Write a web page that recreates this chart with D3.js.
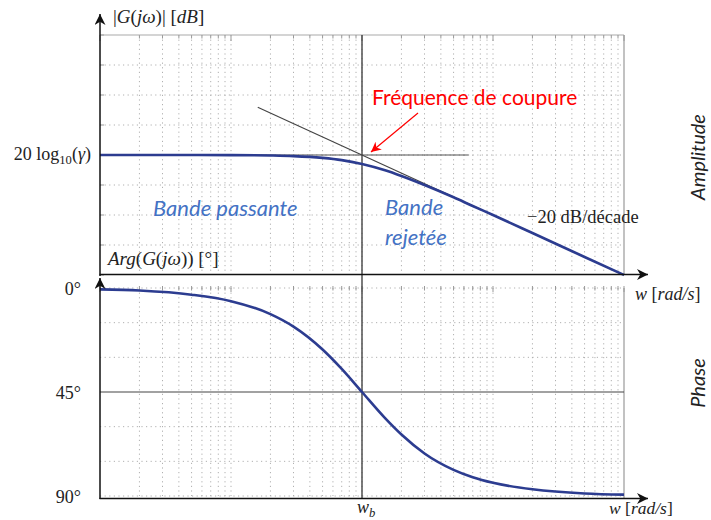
<!DOCTYPE html>
<html>
<head>
<meta charset="utf-8">
<script src="https://cdn.jsdelivr.net/npm/d3@7"></script>
<style>
  html, body { margin: 0; padding: 0; background: #fff; }
  svg { display: block; }
</style>
</head>
<body>
<svg id="chart" width="711" height="520"></svg>
<script>
// ---------------- DATA ----------------
const omega    = [1, 2, 5, 10, 20, 30, 50, 70, 100, 150, 200, 300, 500, 700, 1000, 2000, 5000, 10000];
const gainDb   = [0, 0, -0.01, -0.04, -0.17, -0.37, -0.97, -1.7, -3.0, -5.1, -7.0, -10.0, -14.1, -17.0, -20.0, -26.0, -34.0, -40.0];
const phaseDeg = [0.6, 1.1, 2.9, 5.7, 11.3, 16.7, 26.6, 35.0, 45.0, 56.3, 63.4, 71.6, 78.7, 81.9, 84.3, 87.1, 88.9, 89.4];
const omegaB = 100;
const asymFlatW  = [1, 650];
const asymFlatDb = [0, 0];
const asymSlopeW  = [16, 10000];
const asymSlopeDb = [15.9, -40];
const dbGrid    = [-40, -30, -20, -10, 0, 10, 20, 30, 40];
const phaseGrid = [0, 15, 30, 45, 60, 75, 90];
const phaseTickLabels = ["0°", "45°", "90°"];
const phaseTickValues = [0, 45, 90];

// ---------------- SCALES ----------------
const svg = d3.select("#chart");
const x = d3.scaleLog().domain([1, 10000]).range([100, 624]);
const yA = d3.scaleLinear().domain([-40, 40]).range([275, 35]);
const yP = d3.scaleLinear().domain([0, 90]).range([288, 496]);

const minorW = [];
for (let d = 0; d < 4; d++) for (let k = 1; k <= 9; k++) minorW.push(k * Math.pow(10, d));
minorW.push(10000);

const defs = svg.append("defs");
function marker(id, color, w, h) {
  defs.append("marker").attr("id", id).attr("viewBox", "0 0 10 10")
    .attr("refX", 10).attr("refY", 5).attr("markerWidth", w).attr("markerHeight", h)
    .attr("markerUnits", "userSpaceOnUse").attr("orient", "auto")
    .append("path").attr("d", "M0,0 L10,5 L0,10 L3,5 Z").attr("fill", color);
}
marker("arrK", "#111", 13, 11);
marker("arrR", "#f00", 11, 10);

const gridColor = "#b0b0b0";
const dash = "1.2,3.4";

// ---------------- AMPLITUDE GRID ----------------
const gA = svg.append("g");
gA.selectAll(".vg").data(minorW.filter(w => w > 1 && w < 10000)).join("line")
  .attr("x1", d => x(d)).attr("x2", d => x(d)).attr("y1", yA(40)).attr("y2", yA(-40))
  .attr("stroke", gridColor).attr("stroke-dasharray", dash).attr("stroke-width", 1);
gA.selectAll(".hg").data(dbGrid.filter(v => v > -40 && v < 40)).join("line")
  .attr("x1", x(1)).attr("x2", x(10000)).attr("y1", d => yA(d)).attr("y2", d => yA(d))
  .attr("stroke", gridColor).attr("stroke-dasharray", dash).attr("stroke-width", 1);
gA.selectAll(".tk").data(minorW).join("line")
  .attr("x1", d => x(d)).attr("x2", d => x(d)).attr("y1", yA(40))
  .attr("y2", d => yA(40) + (Math.log10(d) % 1 === 0 ? 6 : 3.5))
  .attr("stroke", "#999").attr("stroke-width", 1);
gA.selectAll(".tl").data(dbGrid).join("line")
  .attr("x1", x(1)).attr("x2", x(1) + 4).attr("y1", d => yA(d)).attr("y2", d => yA(d))
  .attr("stroke", "#999");
gA.append("line").attr("x1", x(1)).attr("x2", x(10000)).attr("y1", yA(40)).attr("y2", yA(40))
  .attr("stroke", "#aaa").attr("stroke-width", 1.2);
gA.append("line").attr("x1", x(10000)).attr("x2", x(10000)).attr("y1", yA(40)).attr("y2", yA(-40))
  .attr("stroke", "#999").attr("stroke-width", 1.2);

// ---------------- PHASE GRID ----------------
const gP = svg.append("g");
gP.selectAll(".vg").data(minorW.filter(w => w > 1 && w < 10000)).join("line")
  .attr("x1", d => x(d)).attr("x2", d => x(d)).attr("y1", yP(0)).attr("y2", yP(90))
  .attr("stroke", gridColor).attr("stroke-dasharray", dash);
gP.selectAll(".hg").data(phaseGrid.filter(v => v !== 45)).join("line")
  .attr("x1", x(1)).attr("x2", x(10000)).attr("y1", d => yP(d)).attr("y2", d => yP(d))
  .attr("stroke", gridColor).attr("stroke-dasharray", dash);
gP.selectAll(".tk").data(minorW).join("line")
  .attr("x1", d => x(d)).attr("x2", d => x(d)).attr("y1", yP(0) - 2)
  .attr("y2", d => yP(0) + (Math.log10(d) % 1 === 0 ? 4 : 2.5))
  .attr("stroke", "#999");
gP.append("line").attr("x1", x(10000)).attr("x2", x(10000)).attr("y1", yP(0)).attr("y2", yP(90) + 2)
  .attr("stroke", "#999").attr("stroke-width", 1.2);
gP.append("line").attr("x1", x(1)).attr("x2", x(10000)).attr("y1", yP(45)).attr("y2", yP(45))
  .attr("stroke", "#444").attr("stroke-width", 1.2);

// wb vertical line
svg.append("line").attr("x1", x(omegaB)).attr("x2", x(omegaB)).attr("y1", yA(40)).attr("y2", yP(90) + 3)
  .attr("stroke", "#444").attr("stroke-width", 1.4);

// ---------------- ASYMPTOTES ----------------
const lineA = d3.line().x(d => x(d[0])).y(d => yA(d[1]));
svg.append("path").attr("d", lineA(d3.zip(asymFlatW, asymFlatDb)))
  .attr("fill", "none").attr("stroke", "#555").attr("stroke-width", 1.1);
svg.append("path").attr("d", lineA(d3.zip(asymSlopeW, asymSlopeDb)))
  .attr("fill", "none").attr("stroke", "#444").attr("stroke-width", 1.1);

// ---------------- CURVES ----------------
const curveColor = "#2c3c90";
svg.append("path").attr("d", d3.line().curve(d3.curveMonotoneX).x(d => x(d[0])).y(d => yA(d[1]))(d3.zip(omega, gainDb)))
  .attr("fill", "none").attr("stroke", curveColor).attr("stroke-width", 2.6);
svg.append("path").attr("d", d3.line().curve(d3.curveMonotoneX).x(d => x(d[0])).y(d => yP(d[1]))(d3.zip(omega, phaseDeg)))
  .attr("fill", "none").attr("stroke", curveColor).attr("stroke-width", 2.6);

// ---------------- AXES ----------------
const axisC = "#111";
svg.append("line").attr("x1", x(1)).attr("x2", x(1)).attr("y1", yA(-40) + 1).attr("y2", 14)
  .attr("stroke", axisC).attr("stroke-width", 1.5).attr("marker-end", "url(#arrK)");
svg.append("line").attr("x1", x(1) - 0.5).attr("x2", 648).attr("y1", 274.5).attr("y2", 274.5)
  .attr("stroke", axisC).attr("stroke-width", 1.5).attr("marker-end", "url(#arrK)");
svg.append("line").attr("x1", x(1)).attr("x2", x(1)).attr("y1", 499).attr("y2", 278)
  .attr("stroke", axisC).attr("stroke-width", 1.5).attr("marker-end", "url(#arrK)");
svg.append("line").attr("x1", x(1) - 0.5).attr("x2", 648).attr("y1", 498.5).attr("y2", 498.5)
  .attr("stroke", axisC).attr("stroke-width", 1.5).attr("marker-end", "url(#arrK)");

// ---------------- TEXT ----------------
const serif = "'Liberation Serif', 'DejaVu Serif', serif";
const sans = "Lato, 'Open Sans', sans-serif";
const txtC = "#222";

function mathText(xp, yp, parts, anchor, size) {
  const fs = size || 19;
  const t = svg.append("text").attr("x", xp).attr("y", yp).attr("font-family", serif)
    .attr("font-size", fs).attr("fill", txtC).attr("text-anchor", anchor || "start");
  parts.forEach(p => {
    const s = t.append("tspan").text(p.t);
    if (p.i) s.attr("font-style", "italic");
    if (p.sub) s.attr("font-size", fs * 0.7).attr("dy", 4);
    if (p.up) s.attr("dy", -4);
  });
  return t;
}

mathText(113, 23, [{t: "|"}, {t: "G", i: 1}, {t: "("}, {t: "jω", i: 1}, {t: ")| ["}, {t: "dB", i: 1}, {t: "]"}]);
mathText(91, 160, [{t: "20 log"}, {t: "10", sub: 1}, {t: "(", up: 1}, {t: "γ", i: 1}, {t: ")"}], "end", 18);
mathText(108, 265, [{t: "Arg", i: 1}, {t: "("}, {t: "G", i: 1}, {t: "("}, {t: "jω", i: 1}, {t: ")) [°]"}]);
mathText(635, 300, [{t: "w", i: 1}, {t: " ["}, {t: "rad/s", i: 1}, {t: "]"}], "start", 18);
mathText(609, 514, [{t: "w", i: 1}, {t: " ["}, {t: "rad/s", i: 1}, {t: "]"}], "start", 17.5);
mathText(357, 513, [{t: "w", i: 1}, {t: "b", i: 1, sub: 1}], "start", 18);
mathText(527, 223, [{t: "−20 dB/décade"}], "start", 18.5);

phaseTickValues.forEach((v, i) => {
  mathText(81, yP(v) + 7, [{t: phaseTickLabels[i]}], "end", 18);
});

const blueTxt = "#4472c4";
svg.append("text").attr("x", 153).attr("y", 216).attr("font-family", sans).attr("font-style", "italic")
  .attr("font-size", 22).attr("fill", blueTxt).text("Bande passante");
svg.append("text").attr("x", 385).attr("y", 215).attr("font-family", sans).attr("font-style", "italic")
  .attr("font-size", 22).attr("fill", blueTxt).text("Bande");
svg.append("text").attr("x", 385).attr("y", 245).attr("font-family", sans).attr("font-style", "italic")
  .attr("font-size", 22).attr("fill", blueTxt).text("rejetée");

svg.append("text").attr("x", 372).attr("y", 105).attr("font-family", sans)
  .attr("font-size", 21).attr("fill", "#f00").text("Fréquence de coupure");
svg.append("line").attr("x1", 418).attr("y1", 113).attr("x2", 371).attr("y2", 152)
  .attr("stroke", "#f00").attr("stroke-width", 1.2).attr("marker-end", "url(#arrR)");

svg.append("text").attr("transform", "translate(705,157) rotate(-90)").attr("text-anchor", "middle")
  .attr("font-family", sans).attr("font-style", "italic").attr("font-size", 20).attr("fill", txtC).text("Amplitude");
svg.append("text").attr("transform", "translate(705,383) rotate(-90)").attr("text-anchor", "middle")
  .attr("font-family", sans).attr("font-style", "italic").attr("font-size", 20).attr("fill", txtC).text("Phase");
</script>
</body>
</html>
